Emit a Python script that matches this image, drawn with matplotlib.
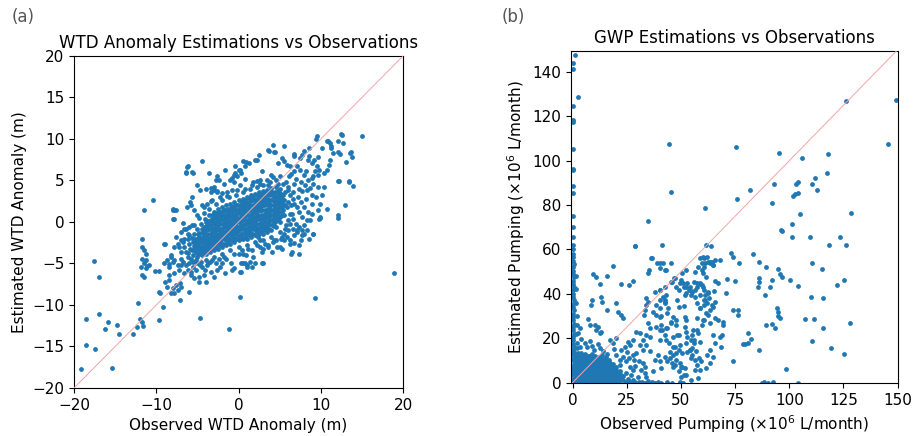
import numpy as np
import matplotlib.pyplot as plt

# ---- (a) WTD anomaly, (observed, estimated) in m ----
wtd_core = [
    (-6.1, -3.7), (-5.9, -3.2), (-6.0, -2.6), (-6.2, -2.1),
    (-5.5, -4.0), (-5.6, -3.4), (-5.4, -2.9), (-5.5, -2.4), (-5.6, -1.9), (-5.4, -1.4),
    (-5.0, -4.2), (-5.1, -3.7), (-4.9, -3.1), (-5.0, -2.6), (-5.1, -2.0), (-4.9, -1.5), (-5.0, -0.9),
    (-4.5, -4.0), (-4.6, -3.5), (-4.4, -3.0), (-4.5, -2.4), (-4.6, -1.9), (-4.4, -1.3), (-4.5, -0.8), (-4.6, -0.2),
    (-4.0, -3.8), (-3.9, -3.3), (-4.1, -2.7), (-4.0, -2.2), (-3.9, -1.6), (-4.1, -1.1), (-4.0, -0.5), (-3.9, 0.0), (-4.1, 0.4),
    (-3.5, -3.6), (-3.4, -3.1), (-3.6, -2.5), (-3.5, -2.0), (-3.4, -1.4), (-3.6, -0.9), (-3.5, -0.3), (-3.4, 0.2), (-3.6, 0.8),
    (-3.0, -3.4), (-3.1, -2.9), (-2.9, -2.3), (-3.0, -1.8), (-3.1, -1.2), (-2.9, -0.7), (-3.0, -0.1), (-3.1, 0.4), (-2.9, 0.8), (-3.0, 1.2),
    (-2.5, -3.2), (-2.4, -2.7), (-2.6, -2.1), (-2.5, -1.6), (-2.4, -1.0), (-2.6, -0.5), (-2.5, 0.1), (-2.4, 0.6), (-2.6, 1.1), (-2.5, 1.6),
    (-2.0, -3.0), (-2.1, -2.5), (-1.9, -1.9), (-2.0, -1.4), (-2.1, -0.8), (-1.9, -0.3), (-2.0, 0.3), (-2.1, 0.8), (-1.9, 1.3), (-2.0, 1.8),
    (-1.5, -2.8), (-1.4, -2.3), (-1.6, -1.7), (-1.5, -1.2), (-1.4, -0.6), (-1.6, -0.1), (-1.5, 0.5), (-1.4, 1.0), (-1.6, 1.5), (-1.5, 2.0),
    (-1.0, -2.6), (-1.1, -2.1), (-0.9, -1.5), (-1.0, -1.0), (-1.1, -0.4), (-0.9, 0.1), (-1.0, 0.7), (-1.1, 1.2), (-0.9, 1.7), (-1.0, 2.2),
    (-0.5, -2.4), (-0.4, -1.9), (-0.6, -1.3), (-0.5, -0.8), (-0.4, -0.2), (-0.6, 0.3), (-0.5, 0.9), (-0.4, 1.4), (-0.6, 1.9), (-0.5, 2.4),
    (0.0, -2.2), (0.1, -1.7), (-0.1, -1.1), (0.0, -0.6), (0.1, 0.0), (-0.1, 0.5), (0.0, 1.1), (0.1, 1.6), (-0.1, 2.1), (0.0, 2.6),
    (0.5, -2.0), (0.4, -1.5), (0.6, -0.9), (0.5, -0.4), (0.4, 0.2), (0.6, 0.7), (0.5, 1.3), (0.4, 1.8), (0.6, 2.3), (0.5, 2.8),
    (1.0, -2.0), (1.1, -1.4), (0.9, -0.9), (1.0, -0.3), (1.1, 0.2), (0.9, 0.8), (1.0, 1.3), (1.1, 1.9), (0.9, 2.4), (1.0, 3.0),
    (1.5, -1.8), (1.4, -1.2), (1.6, -0.7), (1.5, -0.1), (1.4, 0.4), (1.6, 1.0), (1.5, 1.5), (1.4, 2.1), (1.6, 2.6), (1.5, 3.2),
    (2.0, -1.6), (2.1, -1.0), (1.9, -0.5), (2.0, 0.1), (2.1, 0.6), (1.9, 1.2), (2.0, 1.7), (2.1, 2.3), (1.9, 2.8), (2.0, 3.4),
    (2.5, -1.4), (2.4, -0.8), (2.6, -0.3), (2.5, 0.3), (2.4, 0.8), (2.6, 1.4), (2.5, 1.9), (2.4, 2.5), (2.6, 3.0), (2.5, 3.6),
    (3.0, -1.4), (3.1, -0.8), (2.9, -0.2), (3.0, 0.3), (3.1, 0.9), (2.9, 1.4), (3.0, 2.0), (3.1, 2.6), (2.9, 3.1), (3.0, 3.7),
    (3.5, -1.2), (3.4, -0.6), (3.6, -0.1), (3.5, 0.5), (3.4, 1.1), (3.6, 1.6), (3.5, 2.2), (3.4, 2.8), (3.6, 3.4), (3.5, 3.9),
    (4.0, -1.0), (4.1, -0.4), (3.9, 0.2), (4.0, 0.8), (4.1, 1.4), (3.9, 2.0), (4.0, 2.6), (4.1, 3.2), (3.9, 3.7), (4.0, 4.1),
    (4.5, -0.6), (4.4, 0.0), (4.6, 0.6), (4.5, 1.2), (4.4, 1.8), (4.6, 2.4), (4.5, 3.0), (4.4, 3.6), (4.6, 4.2),
    (5.0, 0.0), (5.1, 0.6), (4.9, 1.2), (5.0, 1.8), (5.1, 2.4), (4.9, 3.0), (5.0, 3.5), (5.1, 4.0),
    (5.5, 0.8), (5.4, 1.4), (5.6, 2.0), (5.5, 2.6), (5.4, 3.2), (5.6, 3.6),
]
# extra points packed in between the core ones: observed value -> estimated values
wtd_core_fill = {
    -5.25: [-3.5, -3.0, -2.5, -2.0],
    -4.75: [-3.8, -3.3, -2.8, -2.3, -1.8, -1.3],
    -4.25: [-3.6, -3.1, -2.6, -2.1, -1.6, -1.1, -0.6],
    -3.75: [-3.4, -2.9, -2.4, -1.9, -1.4, -0.9, -0.4, 0.1],
    -3.25: [-3.2, -2.7, -2.2, -1.7, -1.2, -0.7, -0.2, 0.3, 0.8],
    -2.75: [-3.0, -2.5, -2.0, -1.5, -1.0, -0.5, 0.0, 0.5, 1.0],
    -2.25: [-2.8, -2.3, -1.8, -1.3, -0.8, -0.3, 0.2, 0.7, 1.2],
    -1.75: [-2.6, -2.1, -1.6, -1.1, -0.6, -0.1, 0.4, 0.9, 1.4],
    -1.25: [-2.4, -1.9, -1.4, -0.9, -0.4, 0.1, 0.6, 1.1, 1.6],
    -0.75: [-2.2, -1.7, -1.2, -0.7, -0.2, 0.3, 0.8, 1.3, 1.8],
    -0.25: [-2.0, -1.5, -1.0, -0.5, 0.0, 0.5, 1.0, 1.5, 2.0],
    0.25: [-1.9, -1.4, -0.9, -0.4, 0.1, 0.6, 1.1, 1.6, 2.1, 2.5],
    0.75: [-1.8, -1.3, -0.8, -0.3, 0.2, 0.7, 1.2, 1.7, 2.2, 2.7],
    1.25: [-1.6, -1.1, -0.6, -0.1, 0.4, 0.9, 1.4, 1.9, 2.4, 2.9],
    1.75: [-1.4, -0.9, -0.4, 0.1, 0.6, 1.1, 1.6, 2.1, 2.6, 3.1],
    2.25: [-1.2, -0.7, -0.2, 0.3, 0.8, 1.3, 1.8, 2.3, 2.8, 3.3],
    2.75: [-1.1, -0.6, -0.1, 0.4, 0.9, 1.4, 1.9, 2.4, 2.9, 3.4],
    3.25: [-1.0, -0.5, 0.0, 0.5, 1.0, 1.5, 2.0, 2.5, 3.0, 3.5],
    3.75: [-0.8, -0.3, 0.2, 0.7, 1.2, 1.7, 2.2, 2.7, 3.2, 3.7],
    4.25: [-0.5, 0.0, 0.5, 1.0, 1.5, 2.0, 2.5, 3.0, 3.5],
    4.75: [0.2, 0.7, 1.2, 1.7, 2.2, 2.7, 3.2, 3.7],
    5.25: [0.8, 1.3, 1.8, 2.3, 2.8, 3.3],
}
wtd_spread = [
    (-4.4, 7.4), (-6.2, 6.7), (-6.4, 6.0), (-5.6, 6.0), (-3.6, 5.9), (-1.6, 6.3), (-2.6, 5.5),
    (-2.4, 5.1), (-2.8, 5.1), (-5.1, 4.4), (-8.0, 1.6), (-7.6, 1.4), (-8.0, 0.4), (-6.8, -0.1),
    (-5.8, 2.0), (-5.4, 1.4), (-4.4, 2.0), (-3.8, 2.2), (-3.4, 2.5), (-3.4, 4.1), (-3.0, 3.9),
    (-2.6, 3.7), (-2.0, 3.5), (-1.4, 3.1), (-1.0, 5.1), (-0.5, 5.7), (0.1, 6.3), (0.3, 5.9),
    (-11.7, -2.0), (-11.7, -3.0), (-11.5, -3.4), (-11.3, -3.8), (-11.3, -4.6), (-11.9, -5.4),
    (-9.1, -2.6), (-7.8, -3.0), (-7.4, -2.6), (-7.0, -2.2), (-6.6, -2.0), (-6.0, -1.6), (-6.6, -0.8),
    (-6.0, -0.6), (-8.2, -4.0), (-7.8, -4.6), (-7.0, -4.4), (-9.1, -5.0), (-8.4, -5.4), (-10.9, -5.2),
    (-11.7, -4.4), (-11.5, -5.0), (-11.3, -5.6), (-11.7, -6.4), (-11.5, -6.6), (-11.1, -5.3),
    (-9.7, -5.9), (-8.4, -5.1), (-8.0, -4.8), (-8.4, -6.4), (-7.8, -6.2), (-7.2, -5.8),
    (-8.9, -7.2), (-8.4, -7.0), (-8.7, -7.8), (-8.0, -8.0), (-7.6, -7.6), (-7.4, -8.2), (-7.0, -7.8),
    (-7.8, -8.6), (-8.2, -8.6), (-9.7, -8.4), (-8.7, -4.6), (-8.2, -4.2), (-7.4, -5.2), (-6.4, -5.2),
    (-6.2, -5.8), (-5.8, -6.0), (-5.2, -5.8), (-4.8, -6.6), (-4.8, -7.2), (-5.8, -6.4),
    (-0.95, -5.0), (-0.55, -5.6), (0.26, -5.0), (0.26, -6.0), (0.06, -3.8),
    (-4.7, -5.2), (-4.1, -5.8), (-3.7, -5.0), (-5.5, -5.4), (-3.9, -7.2), (-3.0, -6.6), (-2.2, -5.4),
    (-2.0, -5.0), (-0.8, -5.8), (0.2, -6.0), (0.8, -5.0), (1.0, -5.2), (1.6, -5.4), (2.0, -5.0),
    (2.8, -5.0), (0.9, -4.0), (1.8, -4.2), (1.4, -4.8), (0.6, -5.0), (1.0, -5.4), (3.0, -5.0),
    (-7.9, 1.4), (-6.3, 1.8), (-5.9, 2.4), (-5.7, 3.0), (-4.7, 3.8), (-3.9, 4.0), (-3.4, 3.6),
    (-3.0, 4.2), (-2.6, 3.6), (-1.8, 4.6), (-0.6, 4.8), (-0.2, 5.6), (0.8, 5.2), (-0.4, 6.8),
    (5.9, 1.8), (6.5, 1.0), (7.1, 1.8), (7.7, 0.6), (8.3, 0.2), (8.9, 1.0), (7.9, -1.4), (7.1, -1.0),
    (5.5, -1.4), (5.9, -1.8), (6.3, -2.6), (4.3, -2.2), (4.7, -3.0), (4.1, -3.6),
    (9.4, 10.0), (10.7, 9.7), (11.1, 9.5), (12.1, 9.8), (10.1, 8.9), (11.3, 8.9), (11.5, 8.3),
    (12.1, 8.4), (12.3, 8.2), (13.6, 8.3), (11.1, 7.5), (11.0, 6.9), (10.7, 6.3), (10.4, 5.9),
    (9.6, 7.8), (9.2, 7.5), (8.9, 7.1), (8.6, 7.9), (8.4, 7.5), (8.0, 8.5), (6.7, 8.2), (7.5, 7.7),
    (7.7, 8.1), (9.5, 6.7), (9.8, 6.3), (9.3, 6.1), (9.6, 5.7), (9.1, 5.5), (8.9, 5.3),
    (4.2, 9.3), (4.4, 8.4), (3.6, 8.7), (5.5, 9.1), (2.0, 7.5), (1.3, 7.1), (2.5, 8.1),
    (5.3, 7.7), (5.5, 7.3), (4.8, 7.1), (5.9, 6.9), (6.3, 6.7), (0.6, 7.3), (0.8, 6.7), (0.2, 6.3),
    (-0.4, 5.9), (-0.8, 5.3), (2.8, 6.1), (4.0, 5.7), (3.5, 5.1), (2.6, 5.1), (2.2, 4.9),
    (7.1, 6.7), (7.5, 6.3), (7.9, 5.7), (6.7, 6.1), (6.1, 5.5), (13.4, 4.9), (12.1, 4.9),
    (9.9, 2.2), (8.9, 2.2), (9.7, 1.4), (9.9, 0.6), (9.8, 0.4), (8.9, 3.3), (8.7, 4.1), (8.3, 3.9),
    (8.1, 4.5), (7.7, 3.7), (8.7, 0.2), (9.1, -1.4), (8.3, -1.0), (7.7, -1.0), (7.3, -0.6),
    (7.1, -1.2), (7.7, -1.6), (6.3, -2.2), (6.7, -2.5), (5.3, -1.8), (5.5, -2.2), (7.3, -2.8),
    (6.5, -3.6), (5.1, -3.0), (3.0, -3.2), (2.8, -3.6), (3.6, -3.0), (2.4, -1.8), (2.6, -2.2),
    (-5.5, -4.8), (-4.0, -4.6), (-3.0, -4.2), (-2.0, -3.8), (-1.0, -3.4), (0.0, -3.0), (1.0, -2.8),
    (2.0, -2.4), (3.0, -2.2), (4.0, -1.8), (5.0, -1.2), (5.8, -0.4), (-3.5, -4.8), (-1.5, -4.4),
    (0.5, -3.8), (1.6, -3.4), (2.6, -3.0), (3.6, -2.8), (4.6, -2.2), (6.0, 0.2), (6.2, 1.0),
    (-6.2, -1.4), (-5.4, -0.4), (-4.8, 0.5), (-4.2, 1.1), (-3.6, 1.6), (-2.8, 2.2), (-2.0, 2.6),
    (-1.2, 3.0), (-0.3, 3.2), (0.6, 3.6), (1.4, 4.0), (2.2, 4.2), (3.0, 4.5), (3.8, 4.8),
    (4.6, 5.0), (5.4, 4.6), (6.0, 4.2), (6.2, 3.2), (6.0, 2.4), (-0.8, 3.8), (1.8, 4.8),
    (0.2, 4.4), (5.0, 5.6), (4.2, 5.4), (6.8, 2.2), (7.2, 3.0), (6.6, 3.6), (7.4, 4.0),
    (6.8, 4.6), (7.0, 5.2), (6.4, 5.8), (7.6, 2.4), (8.2, 2.8), (6.6, 0.4), (7.0, -0.2), (6.6, -0.8),
    (-6.6, -3.0), (-7.0, -3.6), (-6.2, -4.2), (-6.8, -4.8), (-6.0, -5.0), (-5.0, -5.0),
    (-4.4, -5.4), (-3.8, -5.2), (-2.8, -5.0),
    (-6.8, -2.4), (-7.2, -3.0), (-6.4, -3.6), (-5.8, -4.4), (-5.2, -4.6), (-4.6, -4.8), (-3.2, -4.6),
    (-2.4, -4.4), (-1.8, -4.2), (-0.6, -3.8), (0.4, -3.4), (1.2, -3.2), (2.2, -2.8), (3.2, -2.6),
    (4.2, -2.4), (5.2, -2.0), (5.6, -0.8), (6.2, -0.2), (6.4, 2.0), (6.6, 2.8), (6.0, 3.8),
    (5.8, 4.8), (4.8, 4.6), (3.6, 4.4), (2.6, 4.6), (1.6, 4.4), (0.8, 4.0), (-0.2, 3.8),
    (-1.4, 3.6), (-2.2, 3.0), (-3.2, 2.6), (-4.2, 1.8), (-5.0, 0.8), (-5.6, -0.4), (-6.4, -0.8),
    (-7.0, -1.2), (-7.6, -1.8), (-7.0, -5.2), (-6.6, -6.2), (-5.4, -6.8), (-4.2, -6.4), (-3.4, -6.0),
    (-2.6, -5.8), (-1.6, -6.2), (7.4, 1.2), (8.0, 1.8), (8.4, 1.2), (8.0, -0.4), (7.6, -2.2),
    (6.8, -1.6), (6.0, -1.0), (8.6, -2.0), (9.4, 3.0), (9.0, 4.6), (8.4, 5.0), (7.6, 4.8),
    (8.2, 6.2), (10.2, 3.2), (10.4, 4.2), (9.6, 4.2),
]
wtd_outliers = [
    (-19.1, -17.7), (-18.5, -11.7), (-18.6, -14.8), (-17.6, -4.7), (-17.0, -6.6), (-17.0, -11.1),
    (-17.4, -15.3), (-16.2, -12.9), (-15.9, -12.1), (-15.4, -17.6), (-14.8, -12.4), (-14.5, -13.5),
    (-12.8, -13.5), (-12.4, -12.7), (-12.2, -9.8), (-12.0, -11.7), (-11.6, -12.5), (-11.7, -12.0),
    (-11.5, 1.5), (-10.4, 2.7), (-9.7, -11.8), (-9.2, -10.3), (-9.6, -8.5), (-10.1, -5.9),
    (-9.0, -2.7), (-7.9, 0.4), (-8.0, 1.4), (-7.1, -7.4), (-7.1, -9.4), (-6.0, -8.4),
    (-6.4, 5.9), (-5.5, 5.9), (-6.3, 6.6), (-4.7, -11.6), (-1.2, -12.9), (0.2, -9.0),
    (9.3, -9.2), (18.9, -6.1), (15.0, 10.4), (13.9, 4.3), (13.4, 4.8), (13.0, 2.0), (12.1, 0.5),
    (12.1, 0.9), (12.2, 4.9), (13.7, 8.4), (13.8, 7.8), (13.1, 7.2), (10.7, 1.6), (9.9, 0.5),
    (9.1, -1.4), (6.4, -3.8), (7.4, -3.8), (5.3, -3.3), (3.7, 8.6), (4.3, 8.4), (2.2, 7.5),
    (0.9, 7.2), (6.7, 8.0), (9.5, 10.3), (12.4, 10.6), (12.6, 10.5), (12.7, 9.5), (10.9, 9.7),
    (11.2, 9.2), (8.6, 8.9),
]

# ---- (b) groundwater pumping, (observed, estimated) in 1e6 L/month ----
gwp_blob = [
    (0.8, 0.8), (1.0, 2.4), (0.7, 4.0), (0.9, 5.6), (0.8, 7.2), (1.0, 8.8), (0.7, 10.4), (0.9, 12.0), (0.8, 13.6),
    (2.4, 0.3), (2.6, 1.9), (2.3, 3.5), (2.5, 5.1), (2.4, 6.7), (2.6, 8.3), (2.3, 9.9), (2.5, 11.5), (2.4, 13.1),
    (4.0, 0.8), (4.2, 2.4), (3.9, 4.0), (4.1, 5.6), (4.0, 7.2), (4.2, 8.8), (3.9, 10.4), (4.1, 12.0), (4.0, 13.4),
    (5.6, 0.3), (5.8, 1.9), (5.5, 3.5), (5.7, 5.1), (5.6, 6.7), (5.8, 8.3), (5.5, 9.9), (5.7, 11.5), (5.9, 12.8),
    (7.2, 0.8), (7.4, 2.4), (7.1, 4.0), (7.3, 5.6), (7.2, 7.2), (7.4, 8.8), (7.1, 10.4), (7.3, 12.0),
    (8.8, 0.3), (9.0, 1.9), (8.7, 3.5), (8.9, 5.1), (8.8, 6.7), (9.0, 8.3), (8.7, 9.9), (8.9, 11.5), (9.1, 13.0),
    (10.4, 0.8), (10.6, 2.4), (10.3, 4.0), (10.5, 5.6), (10.4, 7.2), (10.6, 8.8), (10.3, 10.4), (10.5, 12.0),
    (12.0, 0.3), (12.2, 1.9), (11.9, 3.5), (12.1, 5.1), (12.0, 6.7), (12.2, 8.3), (11.9, 9.9), (12.1, 11.6),
    (13.6, 0.8), (13.8, 2.4), (13.5, 4.0), (13.7, 5.6), (13.6, 7.2), (13.8, 8.8), (13.5, 10.4), (13.7, 12.2),
    (15.2, 0.3), (15.4, 1.9), (15.1, 3.5), (15.3, 5.1), (15.2, 6.7), (15.4, 8.3), (15.1, 9.9), (15.3, 11.3),
    (16.8, 0.8), (17.0, 2.4), (16.7, 4.0), (16.9, 5.6), (16.8, 7.2), (17.0, 8.8), (16.7, 10.2),
    (18.4, 0.3), (18.6, 1.9), (18.3, 3.5), (18.5, 5.1), (18.4, 6.7), (18.6, 8.4),
    (20.0, 0.8), (20.2, 2.4), (19.9, 4.0), (20.1, 5.6), (20.0, 7.0),
    (21.6, 0.3), (21.8, 1.9), (21.5, 3.6), (21.7, 5.0), (23.2, 1.0), (23.0, 2.8),
]
gwp_blob_fill = {
    1.6: [1.6, 3.2, 4.8, 6.4, 8.0, 9.6, 11.2, 12.8],
    3.2: [1.6, 3.2, 4.8, 6.4, 8.0, 9.6, 11.2, 12.8],
    4.8: [1.6, 3.2, 4.8, 6.4, 8.0, 9.6, 11.2, 12.4],
    6.4: [1.6, 3.2, 4.8, 6.4, 8.0, 9.6, 11.2, 12.0],
    8.0: [1.6, 3.2, 4.8, 6.4, 8.0, 9.6, 11.2, 12.0],
    9.6: [1.6, 3.2, 4.8, 6.4, 8.0, 9.6, 11.2],
    11.2: [1.6, 3.2, 4.8, 6.4, 8.0, 9.6, 11.2],
    12.8: [1.6, 3.2, 4.8, 6.4, 8.0, 9.6, 10.4],
    14.4: [1.6, 3.2, 4.8, 6.4, 8.0, 9.6, 10.4],
    16.0: [1.6, 3.2, 4.8, 6.4, 8.0, 9.6],
    17.6: [1.6, 3.2, 4.8, 6.4, 8.0],
    19.2: [1.6, 3.2, 4.8, 6.4],
    20.8: [1.6, 3.2, 4.8],
    22.4: [1.6, 3.2],
}
gwp_zero_obs = [
    (0.2, 1.0), (0.5, 2.5), (0.0, 4.0), (0.3, 5.5), (0.1, 7.0), (0.6, 8.5), (0.0, 10.0), (0.4, 11.5),
    (0.2, 13.0), (0.0, 14.5), (0.5, 16.0), (0.1, 17.5), (0.3, 19.0), (0.0, 20.5), (0.6, 22.0),
    (0.2, 23.5), (0.0, 25.0), (0.4, 26.5), (0.1, 28.0), (0.3, 29.5), (0.0, 31.0), (0.5, 32.5),
    (0.2, 34.0), (0.0, 35.5), (0.4, 37.0), (0.1, 38.5), (0.3, 40.0), (0.0, 41.5), (0.6, 43.0),
    (0.2, 44.5), (0.0, 46.0), (0.4, 47.5), (0.1, 49.0), (0.3, 50.5), (0.0, 52.0), (0.5, 53.5),
    (0.2, 55.0), (0.0, 56.5), (0.3, 58.0), (0.1, 60.0), (0.0, 62.0),
    (0.0, 65.5), (0.2, 70.0), (0.0, 75.2), (0.0, 85.3), (0.0, 88.6), (0.1, 95.8), (0.0, 96.5),
    (0.0, 105.5), (0.0, 117.5), (0.1, 118.3), (0.0, 124.6), (2.5, 128.8), (0.0, 141.5),
    (0.0, 144.1), (1.2, 147.5),
    (1.5, 22.0), (1.8, 30.0), (1.4, 36.0), (1.6, 42.0), (2.2, 18.0), (1.3, 48.0), (1.9, 26.0),
]
gwp_zero_est = [
    (24.5, 0.2), (26.0, 0.5), (27.5, 0.0), (29.0, 0.4), (30.5, 0.1), (32.0, 0.3), (33.5, 0.0),
    (35.0, 0.5), (36.5, 0.2), (38.0, 0.0), (39.5, 0.3), (41.0, 0.0), (43.5, 0.2), (46.0, 0.0),
    (49.5, 0.3), (51.0, 0.0), (87.3, 0.0), (88.5, 0.2), (90.0, 0.0), (92.5, 0.1), (104.0, 0.0),
]
gwp_spread = [
    (3.2, 24.5), (2.5, 22.2), (4.0, 19.5), (7.9, 18.9), (5.6, 17.7), (17.1, 19.2), (18.6, 17.7),
    (20.2, 20.0), (25.5, 18.5), (27.8, 19.2), (26.3, 17.0), (32.4, 19.2), (30.9, 17.0), (34.0, 17.0),
    (32.4, 14.7), (29.4, 13.2), (27.8, 12.5), (35.5, 14.0), (27.8, 5.7), (27.1, 3.5), (26.3, 7.2),
    (24.8, 4.2), (24.8, 9.5), (23.2, 11.7), (21.7, 10.2), (20.2, 12.5), (22.0, 8.0), (31.7, 5.7),
    (33.2, 4.2), (34.0, 2.7), (30.1, 2.4), (32.4, 8.7), (33.2, 7.2), (39.4, 12.5), (40.1, 9.5),
    (40.9, 6.5), (37.8, 10.2), (37.1, 5.0),
    (2.0, 15.5), (6.5, 15.8), (10.0, 14.8), (12.5, 15.5), (14.0, 14.0), (16.0, 13.0), (9.0, 16.5),
    (3.5, 16.2), (11.5, 17.5), (22.5, 14.5), (25.0, 13.8), (19.0, 15.0), (24.0, 16.0), (28.5, 10.0),
    (26.0, 11.0), (29.0, 7.5), (25.5, 1.5), (28.0, 1.0), (30.5, 9.8),
    (9.4, 48.8), (10.9, 47.7), (15.9, 48.0), (12.5, 44.3), (18.6, 52.5), (22.1, 44.3), (26.0, 44.0),
    (27.8, 45.8), (8.9, 37.2), (8.6, 35.0), (13.1, 38.7), (13.7, 36.5), (20.2, 36.0), (15.9, 32.7),
    (7.1, 28.5), (7.9, 26.0), (10.2, 26.0), (11.7, 25.0), (10.9, 23.8), (13.2, 23.0), (12.5, 22.2),
    (20.9, 32.0), (22.5, 30.5), (23.2, 29.0), (28.6, 61.5), (41.4, 62.0), (34.0, 38.0), (34.8, 36.5),
    (34.0, 35.0), (33.2, 32.7), (32.7, 30.5), (37.8, 41.0), (40.1, 41.7), (43.2, 39.5), (42.4, 36.5),
    (40.1, 33.5), (38.6, 35.0), (37.1, 32.0), (38.6, 30.5), (40.9, 29.8), (36.3, 56.0), (41.7, 53.7),
    (40.1, 51.5), (43.2, 50.8), (34.8, 49.3), (35.2, 50.8), (46.0, 45.5), (47.0, 47.0), (47.8, 43.2),
    (50.1, 46.2), (50.9, 44.7), (52.4, 43.2), (54.0, 41.7), (52.4, 40.2), (54.7, 39.5), (56.3, 41.7),
    (60.1, 56.8), (63.2, 54.5), (64.7, 53.0), (60.9, 53.7), (34.8, 26.7), (35.5, 24.5), (38.6, 25.2),
    (40.9, 26.0), (43.2, 24.5), (45.5, 27.5), (47.8, 26.0), (35.5, 20.7), (34.0, 21.5), (30.9, 22.2),
    (29.4, 23.0), (43.2, 19.2), (44.7, 17.7), (46.3, 16.2), (47.8, 13.2), (47.8, 10.2), (50.1, 7.2),
    (46.3, 7.2), (60.1, 49.3), (61.6, 47.7), (58.6, 44.7), (60.1, 43.2), (62.4, 40.2), (60.9, 37.2),
    (58.6, 33.5), (61.6, 31.2), (60.1, 28.2), (63.2, 26.7), (64.7, 34.2), (65.5, 36.5), (55.5, 23.8),
    (57.8, 22.2), (54.7, 19.2), (58.6, 18.5), (54.0, 14.7), (57.1, 14.0), (54.7, 11.0), (59.4, 9.5),
    (56.3, 5.7), (61.6, 6.5), (50.1, 2.7), (52.4, 3.5), (54.7, 1.2), (57.8, 2.0),
    (61.6, 62.0), (63.8, 61.5), (58.8, 56.0), (60.4, 56.0), (61.9, 56.4), (59.6, 53.7), (62.7, 54.5),
    (64.2, 54.5), (65.8, 55.2), (67.8, 55.2), (57.8, 52.2), (60.4, 52.2), (63.5, 53.7), (65.0, 53.0),
    (56.5, 49.7), (59.6, 50.8), (50.4, 49.2), (52.4, 50.8), (47.3, 47.3), (45.3, 45.5), (42.7, 43.3),
    (40.4, 53.7), (42.7, 50.8), (40.4, 41.7), (45.5, 53.7), (49.6, 44.7), (51.2, 43.3), (52.7, 44.7),
    (54.2, 43.3), (55.8, 45.5), (57.3, 44.7), (58.8, 44.4), (53.9, 41.7), (55.0, 41.0), (57.3, 43.3),
    (59.6, 44.0), (60.4, 41.7), (61.2, 39.5), (65.8, 45.8), (67.3, 45.0), (65.3, 41.4), (62.7, 41.0),
    (63.1, 38.0), (48.9, 41.7), (48.1, 37.3), (48.9, 33.9), (51.9, 39.5), (51.6, 34.3), (51.9, 29.7),
    (52.4, 28.2), (51.9, 25.2), (52.4, 23.0), (52.7, 20.7), (52.4, 17.7), (42.7, 37.3), (42.7, 35.7),
    (40.4, 29.7), (46.5, 29.7), (47.6, 28.2), (45.3, 26.7), (43.5, 24.5), (41.2, 23.7), (42.7, 21.5),
    (46.5, 20.7), (48.1, 21.5), (48.9, 21.5), (55.0, 21.5), (55.8, 19.2), (57.3, 23.7), (59.6, 26.0),
    (57.3, 29.0), (60.4, 28.2), (62.7, 30.5), (63.5, 32.7), (64.2, 35.0), (61.9, 35.7), (58.8, 33.5),
    (60.4, 37.3), (57.3, 35.7), (56.5, 38.7), (58.8, 39.5), (60.4, 35.0), (65.8, 29.0), (67.3, 28.2),
    (65.0, 21.5), (68.0, 20.7), (68.8, 21.5), (65.8, 17.7), (63.5, 14.7), (61.9, 12.5), (65.0, 11.7),
    (63.5, 8.7), (69.6, 26.0), (49.6, 17.0), (47.3, 16.2), (48.9, 14.7), (45.0, 13.9), (46.5, 12.5),
    (50.4, 13.2), (52.7, 13.9), (54.2, 14.7), (55.0, 15.5), (55.8, 17.7), (43.5, 9.5), (45.8, 8.7),
    (47.3, 8.0), (49.6, 8.7), (50.4, 7.2), (48.9, 5.0), (51.2, 3.5), (51.9, 6.5), (45.0, 11.0),
    (42.7, 11.7), (55.0, 12.5), (56.5, 10.2), (57.3, 8.0), (58.8, 5.7), (58.5, 11.0), (40.4, 19.2),
    (40.4, 23.7), (43.5, 31.2), (44.2, 33.5), (40.4, 37.3), (41.9, 38.7), (36.6, 56.0), (38.9, 53.7),
]
gwp_outliers = [
    (126.0, 127.0), (149.2, 127.6), (145.7, 107.7), (75.3, 106.2), (44.7, 107.4), (45.5, 85.7),
    (95.4, 103.7), (105.7, 101.4), (118.0, 103.2), (117.2, 94.7), (93.0, 89.7), (103.1, 89.3),
    (104.2, 90.2), (110.3, 89.7), (111.8, 92.3), (112.6, 86.7), (81.9, 86.7), (75.8, 82.7),
    (91.9, 81.0), (101.6, 84.0), (102.7, 85.2), (103.9, 85.5), (61.2, 78.9), (128.3, 76.5),
    (105.0, 75.9), (35.0, 72.8), (101.1, 71.4), (96.2, 69.0), (96.5, 68.3), (101.1, 65.4),
    (109.6, 65.4), (123.4, 65.7), (126.2, 62.0), (118.3, 62.0), (28.9, 61.5), (73.2, 58.2),
    (74.2, 56.7), (76.8, 53.7), (83.4, 57.9), (85.8, 54.2), (89.2, 52.2), (94.7, 51.2), (95.7, 48.9),
    (96.5, 47.4), (91.9, 46.2), (91.1, 42.9), (85.8, 47.0), (85.8, 45.5), (85.4, 43.2), (100.3, 46.2),
    (104.2, 43.7), (110.3, 54.0), (115.0, 51.2), (121.9, 44.0), (125.4, 46.2), (109.9, 38.7),
    (115.4, 38.0), (88.8, 39.5), (94.5, 33.5), (94.7, 32.0), (95.0, 30.0), (95.7, 29.0), (89.1, 26.0),
    (91.9, 26.4), (93.4, 24.5), (111.6, 28.5), (128.2, 27.0), (115.4, 24.5), (110.3, 18.9),
    (119.3, 15.5), (125.4, 12.9), (98.4, 6.2), (80.8, 17.7), (82.4, 19.5), (78.5, 17.3), (79.6, 17.3),
    (81.1, 22.5), (74.2, 9.5), (68.5, 16.2), (69.6, 27.5), (70.7, 40.2), (73.8, 32.7), (76.2, 32.7),
    (76.2, 30.5), (71.1, 46.5), (75.0, 46.0), (86.2, 14.7), (107.1, 28.7),
]

DOT = '#1f77b4'
LINE = '#f2a6a6'


def unzip(*groups):
    pts = []
    for g in groups:
        if isinstance(g, dict):
            pts += [(k, v) for k, vals in g.items() for v in vals]
        else:
            pts += list(g)
    return np.array([p[0] for p in pts]), np.array([p[1] for p in pts])


fig = plt.figure(figsize=(9.15, 4.36), dpi=100)
ax_a = fig.add_axes([0.0809, 0.1101, 0.3596, 0.7615])
ax_b = fig.add_axes([0.6240, 0.1216, 0.3574, 0.7615])

# (a)
obs, est = unzip(wtd_core, wtd_core_fill, wtd_spread, wtd_outliers)
ax_a.plot([-20, 20], [-20, 20], color=LINE, lw=0.7, zorder=3)
ax_a.scatter(obs, est, s=12, color=DOT, linewidths=0, zorder=2)
ax_a.set_xlim(-20, 20)
ax_a.set_ylim(-20, 20)
ax_a.set_xticks([-20, -10, 0, 10, 20])
ax_a.set_yticks([-20, -15, -10, -5, 0, 5, 10, 15, 20])
ax_a.set_title('WTD Anomaly Estimations vs Observations', fontsize=12)
ax_a.set_xlabel('Observed WTD Anomaly (m)', fontsize=11)
ax_a.set_ylabel('Estimated WTD Anomaly (m)', fontsize=11)

# (b)
obs, est = unzip(gwp_blob, gwp_blob_fill, gwp_zero_obs, gwp_zero_est, gwp_spread, gwp_outliers)
ax_b.plot([-1, 151], [-1, 151], color=LINE, lw=0.7, zorder=3)
ax_b.scatter(obs, est, s=12, color=DOT, linewidths=0, zorder=2)
ax_b.set_xlim(-0.8, 150.2)
ax_b.set_ylim(-0.2, 149.5)
ax_b.set_xticks([0, 25, 50, 75, 100, 125, 150])
ax_b.set_yticks([0, 20, 40, 60, 80, 100, 120, 140])
ax_b.set_title('GWP Estimations vs Observations', fontsize=12)
ax_b.set_xlabel(r'Observed Pumping ($\times10^6$ L/month)', fontsize=11)
ax_b.set_ylabel(r'Estimated Pumping ($\times10^6$ L/month)', fontsize=11)

for ax in (ax_a, ax_b):
    ax.tick_params(labelsize=11)

fig.text(0.013, 0.95, '(a)', fontsize=12, color='#555555')
fig.text(0.548, 0.95, '(b)', fontsize=12, color='#555555')

fig.savefig('out.png', dpi=100)
